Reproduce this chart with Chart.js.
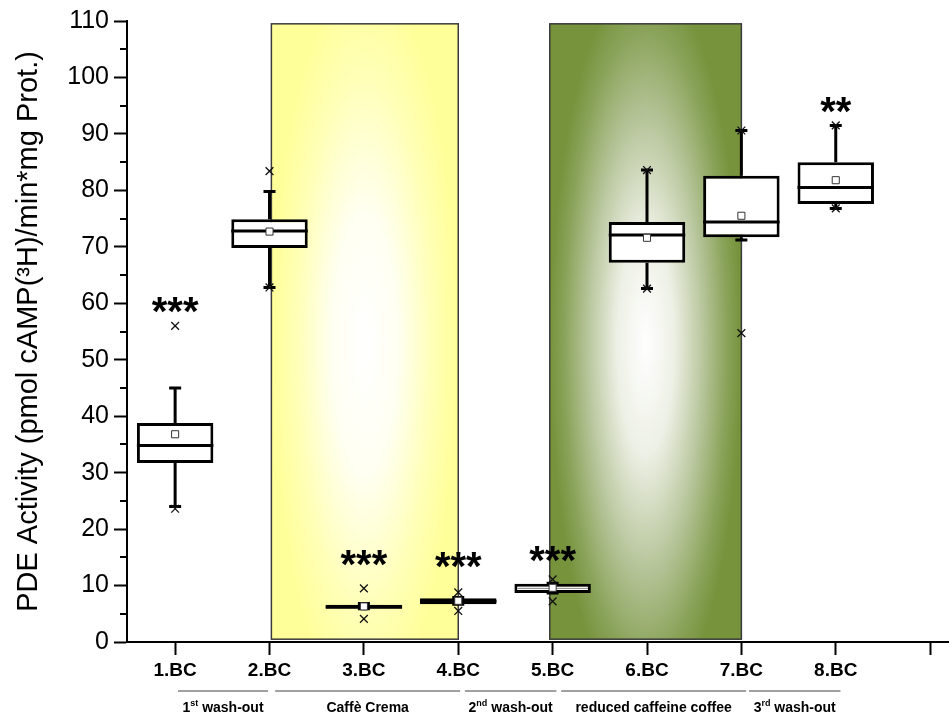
<!DOCTYPE html>
<html>
<head>
<meta charset="utf-8">
<script src="https://cdn.jsdelivr.net/npm/chart.js@4.4.1/dist/chart.umd.min.js"></script>
<style>
html,body{margin:0;padding:0;background:#fff;}
#wrap{width:949px;height:716px;}
</style>
</head>
<body>
<div id="wrap"><canvas id="c" width="949" height="716"></canvas></div>
<script>
// ---- data ----
const categories = ['1.BC','2.BC','3.BC','4.BC','5.BC','6.BC','7.BC','8.BC'];
const xTickValues = [1,2,3,4,5,6,7,8,9];
const whiskerLow  = [24.0, 62.8, 5.9, 6.7, 8.7, 62.6, 71.2, 76.8];
const q1          = [31.7, 69.8, 5.9, 6.7, 8.7, 67.2, 71.7, 77.6];
const median      = [34.8, 72.8, 6.2, 7.2, 9.5, 72.1, 74.4, 80.5];
const q3          = [38.8, 74.9, 6.6, 7.75, 10.3, 74.4, 82.6, 85.0];
const whiskerHigh = [45.0, 79.8, 6.8, 7.9, 10.4, 83.6, 90.6, 91.5];
const meanVals    = [36.8, 72.7, 6.3, 7.3, 9.6, 71.6, 75.5, 81.8];
const lowMark     = [23.6, 62.8, 4.1, 5.5, 7.2, 62.6, 54.7, 76.8];
const highMark    = [56.0, 83.4, 9.5, 8.8, 11.1, 83.6, 90.6, 91.5];
const starText    = ['***', '', '***', '***', '***', '', '', '**'];
const starLevel   = [59.4, null, 14.5, 14.2, 15.2, null, null, 94.8];
const groupLabels = ['1st wash-out', 'Caffè Crema', '2nd wash-out', 'reduced caffeine coffee', '3rd wash-out'];
const groupFrom   = [1.03, 2.06, 4.07, 5.09, 7.08];
const groupTo     = [1.985, 4.02, 5.04, 7.05, 8.05];
const shadeFrom   = [2.02, 4.97];
const shadeTo     = [4.0, 7.0];
const shadeLow    = 0.5;
const shadeHigh   = 109.5;
const yTitle = 'PDE Activity (pmol cAMP(\u00B3H)/min*mg Prot.)';

const FONT = '"Liberation Sans", Arial, Helvetica, sans-serif';
Chart.defaults.font.family = FONT;
Chart.defaults.color = '#000';

const shadeStops = [
  [[0,'#ffffff'],[0.35,'#fffff2'],[0.72,'#ffffb8'],[1,'#ffff99']],
  [[0,'#ffffff'],[0.3,'#edf0e5'],[0.6,'#b8c69c'],[0.85,'#8aa35a'],[1,'#77933c']]
];

const shadePlugin = {
  id: 'shade',
  beforeDatasetsDraw(chart) {
    const {ctx, scales: {x, y}} = chart;
    shadeFrom.forEach((f, i) => {
      const x0 = x.getPixelForValue(f), x1 = x.getPixelForValue(shadeTo[i]);
      const y0 = y.getPixelForValue(shadeHigh), y1 = y.getPixelForValue(shadeLow);
      const cx = (x0 + x1) / 2, cy = y0 + (y1 - y0) * 0.52;
      const rx = (x1 - x0) / 2, ry = (y1 - y0) * 0.6;
      ctx.save();
      ctx.beginPath(); ctx.rect(x0, y0, x1 - x0, y1 - y0); ctx.clip();
      ctx.translate(cx, cy); ctx.scale(1, ry / rx);
      const g = ctx.createRadialGradient(0, 0, 0, 0, 0, rx);
      shadeStops[i].forEach(s => g.addColorStop(s[0], s[1]));
      ctx.fillStyle = g;
      ctx.fillRect(-1000, -1000, 2000, 2000);
      ctx.restore();
      ctx.save();
      ctx.strokeStyle = '#3a3a3a'; ctx.lineWidth = 1.5;
      ctx.strokeRect(x0, y0, x1 - x0, y1 - y0);
      ctx.restore();
    });
  }
};

const BOX_INDEX = 2;
const boxPlugin = {
  id: 'boxParts',
  afterDatasetDraw(chart, args) {
    if (args.index !== BOX_INDEX) return;
    const {ctx, scales: {y}} = chart;
    const meta = chart.getDatasetMeta(BOX_INDEX);
    ctx.save();
    ctx.lineCap = 'butt';
    meta.data.forEach((bar, i) => {
      const cx = bar.x, hw = bar.width / 2;
      const pLo = y.getPixelForValue(whiskerLow[i]), pQ1 = y.getPixelForValue(q1[i]);
      const pHi = y.getPixelForValue(whiskerHigh[i]), pQ3 = y.getPixelForValue(q3[i]);
      ctx.strokeStyle = '#000'; ctx.lineWidth = 3;
      ctx.beginPath();
      ctx.moveTo(cx, pQ3); ctx.lineTo(cx, pHi);
      ctx.moveTo(cx, pQ1); ctx.lineTo(cx, pLo);
      ctx.moveTo(cx - 6, pHi); ctx.lineTo(cx + 6, pHi);
      ctx.moveTo(cx - 6, pLo); ctx.lineTo(cx + 6, pLo);
      ctx.stroke();
      const pM = y.getPixelForValue(median[i]);
      const h = pQ1 - pQ3;
      const thin = h > 7 && h < 12;
      ctx.lineWidth = thin ? 1 : 3;
      ctx.strokeStyle = thin ? '#888' : '#000';
      ctx.beginPath();
      ctx.moveTo(cx - hw + (thin ? 3 : 0), pM); ctx.lineTo(cx + hw - (thin ? 3 : 0), pM);
      ctx.stroke();
    });
    ctx.restore();
  }
};

function drawSupLabel(ctx, text, cx, baseY) {
  const main = 'bold 14px ' + FONT, sup = 'bold 9px ' + FONT;
  const m = text.match(/^(\d+)(st|nd|rd|th)(.*)$/);
  ctx.textBaseline = 'alphabetic';
  if (!m) {
    ctx.font = main; ctx.textAlign = 'center'; ctx.fillText(text, cx, baseY); return;
  }
  ctx.font = main; const w1 = ctx.measureText(m[1]).width, w3 = ctx.measureText(m[3]).width;
  ctx.font = sup; const w2 = ctx.measureText(m[2]).width;
  let x = cx - (w1 + w2 + w3) / 2;
  ctx.textAlign = 'left';
  ctx.font = main; ctx.fillText(m[1], x, baseY); x += w1;
  ctx.font = sup; ctx.fillText(m[2], x, baseY - 6); x += w2;
  ctx.font = main; ctx.fillText(m[3], x, baseY);
}

const annoPlugin = {
  id: 'annotations',
  afterDraw(chart) {
    const {ctx, chartArea, scales: {x, y}} = chart;
    ctx.save();
    ctx.strokeStyle = '#000'; ctx.lineWidth = 2;
    ctx.beginPath();
    for (let v = 5; v < 110; v += 10) {
      const p = Math.round(y.getPixelForValue(v));
      ctx.moveTo(chartArea.left - 7, p); ctx.lineTo(chartArea.left, p);
    }
    ctx.stroke();
    ctx.fillStyle = '#000';
    ctx.font = 'bold 40px ' + FONT;
    ctx.textAlign = 'center'; ctx.textBaseline = 'alphabetic';
    starText.forEach((t, i) => {
      if (!t) return;
      ctx.fillText(t, x.getPixelForValue(i + 1), y.getPixelForValue(starLevel[i]) + 18);
    });
    ctx.strokeStyle = '#444'; ctx.lineWidth = 1.2;
    groupLabels.forEach((g, i) => {
      const a = x.getPixelForValue(groupFrom[i]), b = x.getPixelForValue(groupTo[i]);
      const ly = chartArea.bottom + 49;
      ctx.beginPath(); ctx.moveTo(a, ly); ctx.lineTo(b, ly); ctx.stroke();
      drawSupLabel(ctx, g, (a + b) / 2, chartArea.bottom + 70);
    });
    ctx.restore();
  }
};

const chart = new Chart(document.getElementById('c'), {
  type: 'bar',
  data: {
    datasets: [
      {
        type: 'scatter',
        label: 'Mean',
        data: meanVals.map((v, i) => ({x: i + 1, y: v})),
        pointStyle: 'rect', pointRadius: 5, pointHoverRadius: 5,
        backgroundColor: '#fff', borderColor: '#333', borderWidth: 1
      },
      {
        type: 'scatter',
        label: 'Percentiles',
        data: lowMark.map((v, i) => ({x: i + 1, y: v})).concat(highMark.map((v, i) => ({x: i + 1, y: v}))),
        pointStyle: 'crossRot', pointRadius: 5.5, pointHoverRadius: 5.5,
        backgroundColor: '#000', borderColor: '#111', borderWidth: 1.3
      },
      {
        type: 'bar',
        label: 'Box',
        data: categories.map((c, i) => ({x: i + 1, y: [q1[i], q3[i]]})),
        backgroundColor: '#fff', borderColor: '#000', borderWidth: 3,
        borderSkipped: false,
        barPercentage: 0.9, categoryPercentage: 0.9
      }
    ]
  },
  options: {
    responsive: false,
    animation: false,
    devicePixelRatio: 1,
    layout: {autoPadding: false, padding: {left: 0, right: 0, top: 21, bottom: 0}},
    plugins: {legend: {display: false}, tooltip: {enabled: false}},
    scales: {
      x: {
        type: 'linear', min: 0.49, max: 9.2, offset: false,
        grid: {display: true, drawOnChartArea: false, drawTicks: true, tickLength: 13, tickWidth: 2, tickColor: '#000', offset: false},
        border: {display: true, color: '#000', width: 2},
        afterBuildTicks(scale) { scale.ticks = xTickValues.map(v => ({value: v})); },
        afterFit(scale) { scale.height = 74; scale.paddingRight = 0; scale.paddingLeft = 0; },
        ticks: {
          autoSkip: false, maxRotation: 0, minRotation: 0, padding: 4,
          font: {size: 19, weight: 'bold'}, color: '#000',
          callback: (v) => categories[v - 1] || ''
        }
      },
      y: {
        type: 'linear', min: 0, max: 110,
        grid: {display: true, drawOnChartArea: false, drawTicks: true, tickLength: 13, tickWidth: 2, tickColor: '#000'},
        border: {display: true, color: '#000', width: 2},
        afterFit(scale) { scale.width = 127; },
        ticks: {stepSize: 10, padding: 5, font: {size: 25}, color: '#000'},
        title: {display: true, text: yTitle, font: {size: 29}, color: '#000', padding: {top: 12, bottom: 0}}
      }
    }
  },
  plugins: [shadePlugin, boxPlugin, annoPlugin]
});
</script>
</body>
</html>
